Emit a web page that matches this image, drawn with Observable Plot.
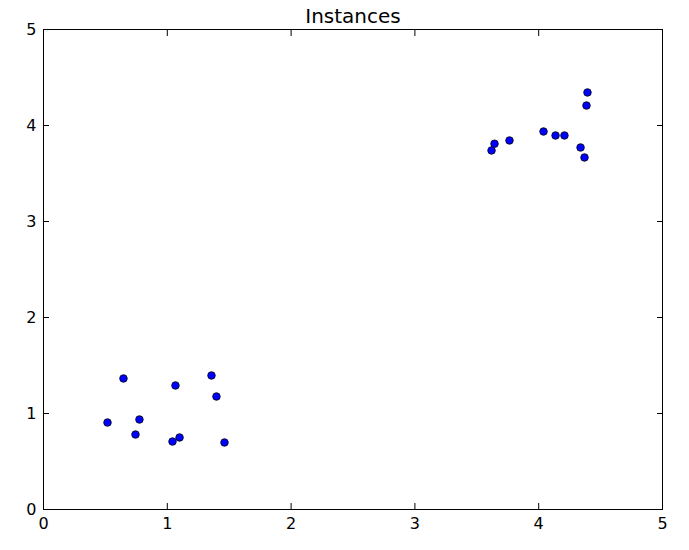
<!DOCTYPE html>
<html>
<head>
<meta charset="utf-8">
<script src="https://cdn.jsdelivr.net/npm/d3@7"></script>
<script src="https://cdn.jsdelivr.net/npm/@observablehq/plot@0.6"></script>
<style>
  html, body { margin: 0; padding: 0; background: #fff; }
  #chart svg { display: block; }
</style>
</head>
<body>
<div id="chart"></div>
<script>
const title = "Instances";
const xValues = [0.517, 0.646, 0.743, 0.775, 1.042, 1.066, 1.099, 1.357, 1.397, 1.462,
                 3.619, 3.643, 3.764, 4.039, 4.136, 4.208, 4.338, 4.370, 4.386, 4.394];
const yValues = [0.906, 1.365, 0.781, 0.9375, 0.708, 1.292, 0.750, 1.396, 1.177, 0.698,
                 3.740, 3.810, 3.844, 3.9375, 3.896, 3.896, 3.771, 3.667, 4.208, 4.344];
const xTicks = [0, 1, 2, 3, 4, 5];
const yTicks = [0, 1, 2, 3, 4, 5];

const points = xValues.map((x, i) => ({x, y: yValues[i]}));
const fmt = d3.format("d");

const chart = Plot.plot({
  width: 689,
  height: 550,
  marginTop: 29,
  marginLeft: 43,
  marginRight: 27,
  marginBottom: 41,
  style: {fontFamily: "DejaVu Sans", fontSize: "16px", color: "#000", background: "#fff"},
  x: {domain: [0, 5]},
  y: {domain: [0, 5]},
  marks: [
    Plot.frame({stroke: "#000", strokeWidth: 1}),
    Plot.axisX(xTicks, {anchor: "bottom", tickSize: -6, tickPadding: 14, tickFormat: fmt, label: null, fontSize: 16}),
    Plot.axisX(xTicks, {anchor: "top", tickSize: -6, tickFormat: () => "", label: null}),
    Plot.axisY(yTicks, {anchor: "left", tickSize: -6, tickPadding: 13, tickFormat: fmt, label: null, fontSize: 16}),
    Plot.axisY(yTicks, {anchor: "right", tickSize: -6, tickFormat: () => "", label: null}),
    Plot.dot(points, {x: "x", y: "y", r: 3.8, fill: "#0000ff", stroke: "#000", strokeWidth: 0.8}),
    Plot.text([title], {text: d => d, frameAnchor: "top", lineAnchor: "bottom", dy: -7, fontSize: 20})
  ]
});
document.getElementById("chart").appendChild(chart);
</script>
</body>
</html>
